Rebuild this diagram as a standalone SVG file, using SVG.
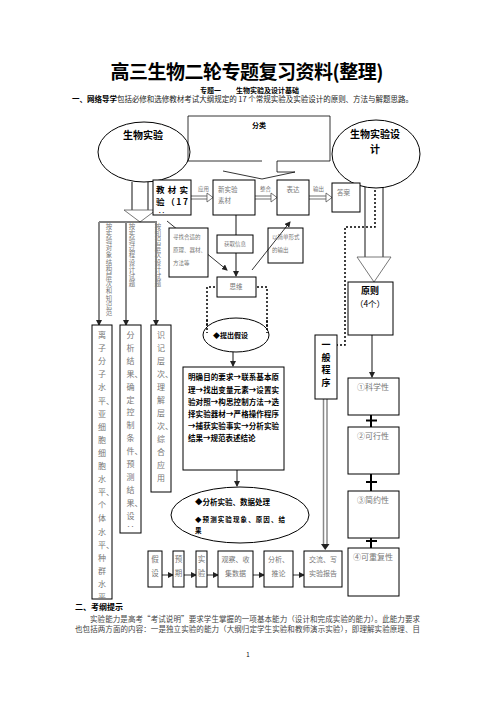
<svg xmlns="http://www.w3.org/2000/svg" width="496" height="702" viewBox="0 0 496 702">
<style>
text{font-family:"Noto Sans CJK SC","Noto Sans",sans-serif;}
.bx{fill:#fff;stroke:#000;stroke-width:1}
.g{fill:#777}
.b{font-weight:bold;fill:#000}
.gl{stroke:#888;stroke-width:2;fill:none}
.ln{stroke:#000;stroke-width:0.8;fill:none}
.dt{stroke:#000;stroke-width:1.5;stroke-dasharray:2 2;fill:none}
.hd{fill:#fff;stroke:#555;stroke-width:0.8}
.pl{stroke:#000;stroke-width:2}
.m{text-anchor:middle}
.v{writing-mode:vertical-rl;text-orientation:upright;font-size:6.4px;letter-spacing:0.8px;fill:#777}
</style>
<defs>
<marker id="ah" markerWidth="6" markerHeight="6" refX="5" refY="3" orient="auto" markerUnits="userSpaceOnUse"><path d="M0,0 L6,3 L0,6 Z" fill="#222"/></marker>
<clipPath id="c1"><rect x="92" y="325" width="20" height="274"/></clipPath>
</defs>

<!-- header -->
<text x="247" y="78.5" class="m" font-size="19" font-weight="bold" textLength="273">高三生物二轮专题复习资料(整理)</text>
<text x="200" y="92.5" font-size="7" class="b">专题一</text>
<text x="236" y="92.5" font-size="7" class="b">生物实验及设计基础</text>
<text x="72" y="102" font-size="7.5" fill="#222" textLength="341"><tspan font-weight="bold" fill="#000">一、网络导学</tspan>包括必修和选修教材考试大纲规定的 17 个常规实验及实验设计的原则、方法与解题思路。</text>

<!-- connectors -->
<g id="connectors">
  <line x1="132" y1="182" x2="132" y2="210" class="gl"/>
  <line x1="148" y1="182" x2="148" y2="210" class="gl"/>
  <polygon points="132,210 124,210 140,222 156,210 148,210" class="hd"/>
  <line x1="99" y1="222" x2="157" y2="222" stroke="#000" stroke-width="1"/>
  <line x1="99" y1="222" x2="99" y2="325" class="gl" marker-end="url(#ah)"/>
  <line x1="126" y1="222" x2="126" y2="325" class="gl" marker-end="url(#ah)"/>
  <line x1="156" y1="222" x2="156" y2="325" class="gl" marker-end="url(#ah)"/>
  <line x1="191" y1="196" x2="208" y2="196" stroke="#888" stroke-width="1.2"/>
  <line x1="191" y1="199" x2="208" y2="199" stroke="#888" stroke-width="1.2"/>
  <polygon points="207,193 213,197.5 207,202" class="hd"/>
  <line x1="255" y1="196" x2="272" y2="196" stroke="#888" stroke-width="1.2"/>
  <line x1="255" y1="199" x2="272" y2="199" stroke="#888" stroke-width="1.2"/>
  <polygon points="271,193 277,197.5 271,202" class="hd"/>
  <line x1="309" y1="196" x2="327" y2="196" stroke="#888" stroke-width="1.2"/>
  <line x1="309" y1="199" x2="327" y2="199" stroke="#888" stroke-width="1.2"/>
  <polygon points="326,193 332,197.5 326,202" class="hd"/>
  <line x1="236" y1="215" x2="236" y2="276" class="gl" marker-end="url(#ah)"/>
  <line x1="167" y1="221" x2="227" y2="270" class="ln" marker-end="url(#ah)"/>
  <path d="M207,333 V287 H267 V333" class="dt"/>
  <path d="M375,170 V227 H345 V345 H337" class="dt"/>
  <line x1="365" y1="185" x2="383" y2="185" stroke="#888" stroke-width="1"/>
  <line x1="365" y1="185" x2="365" y2="257" class="gl"/>
  <line x1="383" y1="185" x2="383" y2="257" class="gl"/>
  <polygon points="365,257 357,257 374,282 391,257 383,257" class="hd"/>
  <line x1="233" y1="352" x2="233" y2="366" class="gl" marker-end="url(#ah)"/>
  <line x1="237" y1="470" x2="237" y2="486" class="gl" marker-end="url(#ah)"/>
  <line x1="372" y1="335" x2="372" y2="377" class="gl" marker-end="url(#ah)"/>
  <line x1="323.5" y1="399" x2="323.5" y2="545" stroke="#888" stroke-width="1.5"/>
  <line x1="327" y1="399" x2="327" y2="545" stroke="#888" stroke-width="1.5"/>
  <path d="M321,544 L329.5,544 L325.2,550 Z" fill="#222"/>
  <line x1="371" y1="415" x2="371" y2="427" class="pl"/><line x1="366" y1="420.5" x2="377" y2="420.5" class="pl"/>
  <line x1="371" y1="474" x2="371" y2="491" class="pl"/><line x1="366" y1="482" x2="377" y2="482" class="pl"/>
  <line x1="371" y1="536" x2="371" y2="548" class="pl"/><line x1="366" y1="541" x2="377" y2="541" class="pl"/>
  <line x1="162" y1="575" x2="173" y2="575" class="ln" marker-end="url(#ah)"/>
  <line x1="184" y1="575" x2="196" y2="575" class="ln" marker-end="url(#ah)"/>
  <line x1="207" y1="575" x2="218" y2="575" class="ln" marker-end="url(#ah)"/>
  <line x1="253" y1="575" x2="264" y2="575" class="ln" marker-end="url(#ah)"/>
  <line x1="293" y1="575" x2="304" y2="575" class="ln" marker-end="url(#ah)"/>
</g>

<!-- nodes -->
<g id="n-bio">
  <ellipse cx="144" cy="152" rx="46" ry="30" class="bx"/>
  <text x="143" y="139" class="m b" font-size="10">生物实验</text>
</g>
<g id="n-fenlei">
  <path d="M188,116 H330 V161 H277 V172 H295 L262,179 L223,171" class="ln"/>
  <path d="M188,116 V161 H262" class="ln"/>
  <text x="252" y="128" class="b" font-size="7">分类</text>
</g>
<g id="n-design">
  <ellipse cx="376" cy="154" rx="44" ry="34" class="bx"/>
  <text x="375" y="138" class="m b" font-size="10">生物实验设</text>
  <text x="375" y="153" class="m b" font-size="10">计</text>
</g>
<g id="n-jiaocai">
  <rect x="153" y="180" width="38" height="35" class="bx"/>
  <text x="156" y="193" class="b" font-size="8.5" textLength="32">教材实</text>
  <text x="156" y="205" class="b" font-size="8.5" textLength="32">验（17</text>
  <text x="158" y="215" class="b" font-size="7">‥</text>
</g>
<text x="198" y="191" class="g" font-size="5.5">应用</text>
<g id="n-xinsc">
  <rect x="213" y="180" width="42" height="35" class="bx"/>
  <text x="218" y="192" class="g" font-size="6.5">新实验</text>
  <text x="218" y="203" class="g" font-size="6.5">素材</text>
</g>
<text x="260" y="191" class="g" font-size="5.5">整合</text>
<g id="n-biaoda">
  <rect x="277" y="180" width="32" height="35" class="bx"/>
  <text x="293" y="192" class="m g" font-size="6.5">表达</text>
</g>
<text x="313" y="191" class="g" font-size="5.5">输出</text>
<g id="n-daan">
  <rect x="332" y="183" width="28" height="29" class="bx"/>
  <text x="337" y="195" class="g" font-size="6.5">答案</text>
</g>
<g id="n-xunzhao">
  <rect x="169" y="228" width="39" height="49" class="bx"/>
  <text x="173" y="239" class="g" font-size="5.5">寻找合适的</text>
  <text x="173" y="252" class="g" font-size="5.5">原理、器材、</text>
  <text x="173" y="265" class="g" font-size="5.5">方法等</text>
</g>
<g id="n-huoqu">
  <rect x="217" y="235" width="36" height="18" class="bx"/>
  <text x="235" y="246" class="m g" font-size="5.5">获取信息</text>
</g>
<g id="n-jiandan">
  <rect x="268" y="228" width="35" height="35" class="bx"/>
  <text x="272" y="239" class="g" font-size="5.5">以简单形式</text>
  <text x="272" y="252" class="g" font-size="5.5">的输出</text>
</g>
<line x1="252" y1="270" x2="290" y2="222" class="ln" marker-end="url(#ah)"/>
<g id="n-siwei">
  <rect x="217" y="277" width="39" height="20" class="bx"/>
  <text x="236" y="289" class="m g" font-size="6.5">思维</text>
</g>
<g id="n-yuanze">
  <rect x="348" y="282" width="45" height="53" class="bx"/>
  <text x="370" y="294" class="m b" font-size="9">原则</text>
  <text x="370" y="307" class="m" font-size="8.5" fill="#000">（4个）</text>
</g>

<!-- column labels (vertical text) -->
<text id="lab1" x="109" y="223" class="v">按实验对象结构层次和知识范</text>
<text id="lab2" x="132" y="223" class="v">按实验过程设计试题</text>
<text id="lab3" x="158" y="223" class="v">按知识层次设计试题</text>

<!-- long column boxes -->
<g id="n-col1">
  <rect x="92" y="325" width="20" height="274" class="bx"/>
  <g clip-path="url(#c1)" class="g" font-size="8">
    <text x="98" y="338">离</text><text x="98" y="351.1">子</text><text x="98" y="364.2">分</text><text x="98" y="377.3">子</text><text x="98" y="390.4">水</text><text x="98" y="403.5">平、</text><text x="98" y="416.6">亚</text><text x="98" y="429.7">细</text><text x="98" y="442.8">胞</text><text x="98" y="455.9">细</text><text x="98" y="469">胞</text><text x="98" y="482.1">水</text><text x="98" y="495.2">平、</text><text x="98" y="508.3">个</text><text x="98" y="521.4">体</text><text x="98" y="534.5">水</text><text x="98" y="547.6">平、</text><text x="98" y="560.7">种</text><text x="98" y="573.8">群</text><text x="98" y="586.9">水</text><text x="98" y="600">平</text>
  </g>
</g>
<g id="n-col2">
  <rect x="120" y="325" width="21" height="208" class="bx"/>
  <g class="g" font-size="8">
    <text x="126.5" y="338">分</text><text x="126.5" y="350.9">析</text><text x="126.5" y="363.8">结</text><text x="126.5" y="376.7">果、</text><text x="126.5" y="389.6">确</text><text x="126.5" y="402.5">定</text><text x="126.5" y="415.4">控</text><text x="126.5" y="428.3">制</text><text x="126.5" y="441.2">条</text><text x="126.5" y="454.1">件、</text><text x="126.5" y="467">预</text><text x="126.5" y="479.9">测</text><text x="126.5" y="492.8">结</text><text x="126.5" y="505.7">果、</text><text x="126.5" y="518.6">设</text><text x="126.5" y="530">‥</text>
  </g>
</g>
<g id="n-col3">
  <rect x="151" y="325" width="20" height="167" class="bx"/>
  <g class="g" font-size="8">
    <text x="157" y="338">识</text><text x="157" y="351">记</text><text x="157" y="364">层</text><text x="157" y="377">次、</text><text x="157" y="390">理</text><text x="157" y="403">解</text><text x="157" y="416">层</text><text x="157" y="429">次、</text><text x="157" y="442">综</text><text x="157" y="455">合</text><text x="157" y="468">应</text><text x="157" y="481">用</text>
  </g>
</g>

<g id="n-tichu">
  <ellipse cx="236" cy="335" rx="33" ry="17" class="bx"/>
  <path d="M207,320 V333 M267,320 V333" class="dt"/>
  <text x="213" y="337.5" class="b" font-size="7">◆提出假设</text>
</g>
<g id="n-steps">
  <rect x="183" y="367" width="101" height="103" class="bx"/>
  <g class="b" font-size="7.5">
    <text x="188" y="380" textLength="91">明确目的要求→联系基本原</text>
    <text x="188" y="393" textLength="91">理→找出变量元素→设置实</text>
    <text x="188" y="405" textLength="91">验对照→构思控制方法→选</text>
    <text x="188" y="417" textLength="91">择实验器材→严格操作程序</text>
    <text x="188" y="429" textLength="91">→捕获实验事实→分析实验</text>
    <text x="188" y="441">结果→规范表述结论</text>
  </g>
</g>
<g id="n-fenxi">
  <ellipse cx="240" cy="515" rx="69" ry="28" class="bx"/>
  <text x="195" y="505" class="b" font-size="7.5">◆分析实验、数据处理</text>
  <text x="195" y="522" class="b" font-size="6.5" textLength="90">◆预测实验现象、原因、结</text>
  <text x="195" y="533" class="b" font-size="6.5">果</text>
</g>
<g id="n-yiban">
  <rect x="315" y="335" width="22" height="64" class="bx"/>
  <g class="m b" font-size="9">
    <text x="326" y="348">一</text><text x="326" y="361">般</text><text x="326" y="373">程</text><text x="326" y="386">序</text>
  </g>
</g>
<g id="n-p1"><rect x="348" y="378" width="51" height="37" class="bx"/><text x="373" y="390" class="m g" font-size="8">①科学性</text></g>
<g id="n-p2"><rect x="348" y="427" width="51" height="47" class="bx"/><text x="373" y="439" class="m g" font-size="8">②可行性</text></g>
<g id="n-p3"><rect x="348" y="491" width="51" height="47" class="bx"/><text x="373" y="503" class="m g" font-size="8">③简约性</text></g>
<g id="n-p4"><rect x="348" y="548" width="51" height="48" class="bx"/><text x="373" y="560" class="m g" font-size="8">④可重复性</text></g>

<!-- bottom row -->
<g id="n-jiashe"><rect x="148" y="551" width="14" height="36" class="bx"/><text x="155" y="562" class="m g" font-size="7.5">假</text><text x="155" y="576" class="m g" font-size="7.5">设</text></g>
<g id="n-yuqi"><rect x="173" y="551" width="11" height="36" class="bx"/><text x="178.5" y="562" class="m g" font-size="7.5">预</text><text x="178.5" y="576" class="m g" font-size="7.5">期</text></g>
<g id="n-shiyan"><rect x="196" y="551" width="11" height="36" class="bx"/><text x="201.5" y="562" class="m g" font-size="7.5">实</text><text x="201.5" y="576" class="m g" font-size="7.5">验</text></g>
<g id="n-guancha"><rect x="218" y="551" width="35" height="36" class="bx"/><text x="235.5" y="562" class="m g" font-size="7">观察、收</text><text x="235.5" y="576" class="m g" font-size="7">集数据</text></g>
<g id="n-tuilun"><rect x="264" y="551" width="29" height="36" class="bx"/><text x="278.5" y="562" class="m g" font-size="7">分析、</text><text x="278.5" y="576" class="m g" font-size="7">推论</text></g>
<g id="n-jiaoliu"><rect x="304" y="551" width="38" height="36" class="bx"/><text x="323" y="562" class="m g" font-size="7">交流、写</text><text x="323" y="576" class="m g" font-size="7">实验报告</text></g>

<!-- footer text -->
<text x="75" y="610" class="b" font-size="8">二、考纲提示</text>
<text x="90" y="622" font-size="7.5" fill="#444" textLength="330">实验能力是高考“考试说明”要求学生掌握的一项基本能力（设计和完成实验的能力）。此能力要求</text>
<text x="75" y="632" font-size="7.5" fill="#444" textLength="345">也包括两方面的内容：一是独立实验的能力（大纲归定学生实验和教师演示实验），即理解实验原理、目</text>
<text x="248" y="657" class="m" font-size="6" fill="#000">1</text>
</svg>
